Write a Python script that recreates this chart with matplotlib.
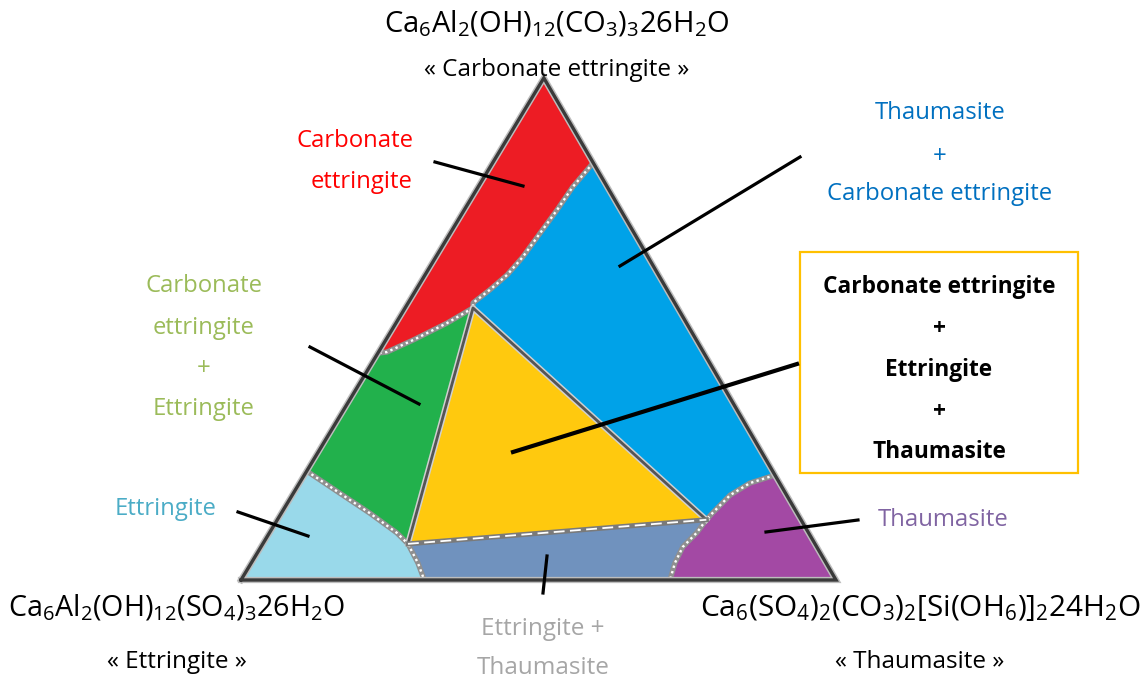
import matplotlib
matplotlib.use("Agg")
import matplotlib.pyplot as plt
import matplotlib.patches as mpatches
from matplotlib.lines import Line2D
import numpy as np

plt.rcParams['font.family'] = ['Open Sans', 'DejaVu Sans']
plt.rcParams['mathtext.fontset'] = 'custom'
plt.rcParams['mathtext.rm'] = 'Open Sans'
plt.rcParams['mathtext.it'] = 'Open Sans'

W, H = 1148, 679

# phase boundaries as ternary fractions (carbonate ettringite, thaumasite); ettringite = rest
red_blue_c = [0.831, 0.783, 0.737, 0.691, 0.643, 0.608, 0.578, 0.552, 0.542]
red_blue_t = [0.169, 0.159, 0.156, 0.151, 0.146, 0.138, 0.124, 0.109, 0.114]
red_green_c = [0.542, 0.512, 0.478, 0.454, 0.452]
red_green_t = [0.114, 0.086, 0.046, 0.014, 0.000]
green_lblue_c = [0.217, 0.173, 0.133, 0.094, 0.072]
green_lblue_t = [0.000, 0.078, 0.149, 0.214, 0.244]
lblue_steel_c = [0.072, 0.034, 0.000]
lblue_steel_t = [0.244, 0.280, 0.308]
purple_up_c = [0.209, 0.193, 0.169, 0.135, 0.120]
purple_up_t = [0.791, 0.757, 0.736, 0.725, 0.721]
purple_low_c = [0.120, 0.094, 0.066, 0.034, 0.000]
purple_low_t = [0.721, 0.718, 0.709, 0.712, 0.721]
# three-phase triangle corners
tri_c = [0.542, 0.072, 0.120]
tri_t = [0.114, 0.244, 0.721]

colors = {
    "red": "#ED1C24", "blue": "#00A2E8", "yellow": "#FFC90E", "green": "#22B14C",
    "lblue": "#99D9EA", "steel": "#7092BE", "purple": "#A349A4",
}

APEX_X = 0.509  # apex sits a little right of the base midpoint in the drawing


def xy(c, t):
    c = np.asarray(c, float)
    t = np.asarray(t, float)
    return np.column_stack([t + c * APEX_X, c])


def fp(x, y):
    return x / W, 1 - y / H


fig = plt.figure(figsize=(W / 100, H / 100), dpi=100)
ax = fig.add_axes([241 / W, 1 - 580 / H, 595 / W, 502 / H])
ax.set_xlim(0, 1)
ax.set_ylim(0, 1)
ax.axis("off")

rb = xy(red_blue_c, red_blue_t)
rg = xy(red_green_c, red_green_t)
gl = xy(green_lblue_c, green_lblue_t)
ls = xy(lblue_steel_c, lblue_steel_t)
pu = xy(purple_up_c, purple_up_t)
pl = xy(purple_low_c, purple_low_t)
tri = xy(tri_c, tri_t)
apex = xy([1], [0])
e_corner = xy([0], [0])
t_corner = xy([0], [1])

regions = [
    ("red", np.vstack([apex, rb, rg[1:]])),
    ("blue", np.vstack([rb, tri[2:3], pu[::-1][1:]])),
    ("green", np.vstack([rg, gl, tri[0:1]])),
    ("lblue", np.vstack([e_corner, gl, ls[1:]])),
    ("steel", np.vstack([ls, pl[::-1]])),
    ("purple", np.vstack([pu, pl[1:], t_corner])),
    ("yellow", tri),
]
for name, pts in regions:
    ax.add_patch(mpatches.Polygon(pts, closed=True, facecolor=colors[name],
                                  edgecolor=colors[name], lw=0.8, clip_on=False))

# dotted phase boundaries
for b in [rb, rg, gl, ls, pu, pl]:
    ax.plot(b[:, 0], b[:, 1], color="#8f8f8f", lw=3.8, clip_on=False,
            solid_capstyle="round", solid_joinstyle="round")
    ax.plot(b[:, 0], b[:, 1], color="white", lw=1.7, ls=(0, (1, 1.4)), clip_on=False)

# three-phase triangle edges
ax.plot(tri[[1, 0, 2], 0], tri[[1, 0, 2], 1], color="#d0d0d0", lw=4.2, clip_on=False)
ax.plot(tri[[1, 0, 2], 0], tri[[1, 0, 2], 1], color="#555555", lw=2.0, clip_on=False)
ax.plot(tri[[1, 2], 0], tri[[1, 2], 1], color="#7a7a7a", lw=3.6, clip_on=False)
ax.plot(tri[[1, 2], 0], tri[[1, 2], 1], color="white", lw=1.3, ls=(0, (6, 3)), clip_on=False)

# outer triangle
outer = np.vstack([e_corner, t_corner, apex, e_corner])
ax.plot(outer[:, 0], outer[:, 1], color="#bdbdbd", lw=4.5, clip_on=False, solid_joinstyle="miter")
ax.plot(outer[:, 0], outer[:, 1], color="#3a3a3a", lw=2.4, clip_on=False, solid_joinstyle="miter")

# leader lines (figure pixels)
leaders = [
    ((435, 162), (523, 186), 2.3),
    ((800, 157), (620, 266), 2.3),
    ((310, 347), (419, 404), 2.3),
    ((797, 364), (513, 452), 3.0),
    ((238, 512), (308, 536), 2.3),
    ((547, 556), (543, 593), 2.3),
    ((858, 520), (766, 532), 2.3),
]
for p0, p1, lw in leaders:
    a, b = fp(*p0), fp(*p1)
    fig.add_artist(Line2D([a[0], b[0]], [a[1], b[1]], color="black", lw=lw))

# label box
bx0, by0 = fp(800, 473)
bx1, by1 = fp(1078, 252)
fig.add_artist(mpatches.Rectangle((bx0, by0), bx1 - bx0, by1 - by0, fill=False,
                                  edgecolor="#FFC000", lw=1.6, transform=fig.transFigure))


def label(x, y, s, color="black", size=17.2, weight="normal", ha="center"):
    fx, fy = fp(x, y + 2)
    fig.text(fx, fy, s, color=color, fontsize=size, fontweight=weight, ha=ha, va="center")


label(557, 22, r"$\mathrm{Ca_6Al_2(OH)_{12}(CO_3)_3 26H_2O}$", size=21)
label(557, 68, "« Carbonate ettringite »", size=17.5)
label(177, 606, r"$\mathrm{Ca_6Al_2(OH)_{12}(SO_4)_3 26H_2O}$", size=20.6)
label(177, 660, "« Ettringite »", size=17.5)
label(920, 606, r"$\mathrm{Ca_6(SO_4)_2(CO_3)_2[Si(OH_6)]_2 24H_2O}$", size=21.4)
label(920, 660, "« Thaumasite »", size=17.5)

label(413, 139, "Carbonate", "#FF0000", ha="right")
label(413, 180, "ettringite", "#FF0000", ha="right")

for y, s in zip([111, 155, 192], ["Thaumasite", "+", "Carbonate ettringite"]):
    label(940, y, s, "#0070C0")

for y, s in zip([284, 326, 367, 407], ["Carbonate", "ettringite", "+", "Ettringite"]):
    label(204, y, s, "#9BBB59")

for y, s in zip([285, 327, 368, 410, 450],
                ["Carbonate ettringite", "+", "Ettringite", "+", "Thaumasite"]):
    label(939, y, s, "black", 16.3, weight="bold")

label(166, 507, "Ettringite", "#4BACC6")
label(943, 518, "Thaumasite", "#8064A2")
label(543, 627, "Ettringite +", "#A6A6A6", 17.5)
label(543, 666, "Thaumasite", "#A6A6A6", 17.5)

fig.savefig("out.png", dpi=100)
